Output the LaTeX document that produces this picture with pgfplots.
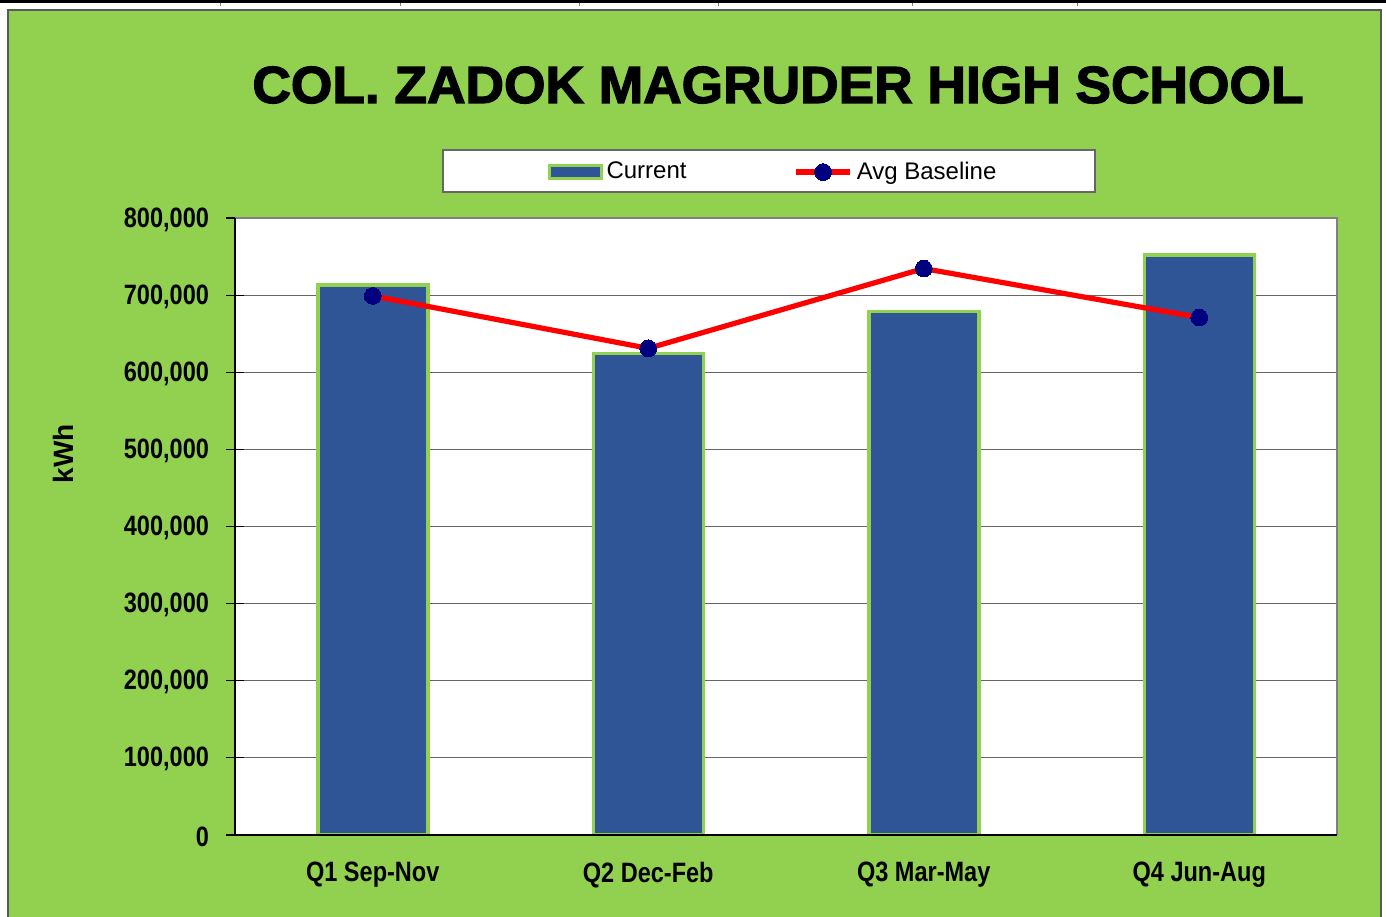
\documentclass[border=0pt]{standalone}
\usepackage{pgfplots}
\pgfplotsset{compat=1.18}
\usepackage{fontspec}
\setmainfont{Liberation Sans}
\newfontfamily\narrowfont[FakeStretch=0.84]{Liberation Sans}
\newfontfamily\titlefont[FakeBold=2.5,FakeStretch=1.025]{Liberation Sans}
\definecolor{panelgreen}{RGB}{146,208,80}
\definecolor{barblue}{RGB}{47,85,151}
\definecolor{navy}{RGB}{0,0,128}

\pgfplotsset{
  barleg/.style={legend image code/.code={\draw[##1, line width=1.5pt] (0pt,-3.2pt) rectangle (26pt,3.2pt);}},
  lineleg/.style={legend image code/.code={\draw[mark repeat=2, mark phase=2, ##1] plot coordinates {(0pt,0pt) (13.5pt,0pt) (27pt,0pt)};}},
}

\pgfplotstableread{
x current baseline
0 713000 699000
1 624500 631000
2 679000 734500
3 752000 671000
}\datatable

\begin{document}
\begin{tikzpicture}
\useasboundingbox (0pt,0pt) rectangle (693pt,-458pt);
% top sheet line
\draw[black, line width=1.5pt] (0pt,-0.75pt) -- (693pt,-0.75pt);
\foreach \xx in {110,200,289.5,359,456,538.5}{
  \draw[gray, line width=0.3pt] (\xx pt,-1.5pt) -- (\xx pt,-3pt);
}
% green panel
\fill[panelgreen] (4pt,-5pt) rectangle (690.5pt,-462pt);
\draw[black!65, line width=1pt] (4pt,-462pt) -- (4pt,-5pt) -- (690.5pt,-5pt) -- (690.5pt,-462pt);
% title
\node[font=\titlefont\bfseries\fontsize{26}{30}\selectfont] at (389pt,-42.5pt) {COL. ZADOK MAGRUDER HIGH SCHOOL};
% y label
\node[rotate=90, font=\bfseries\fontsize{14}{16}\selectfont] at (31.5pt,-227pt) {kWh};
% legend frame
\draw[black!60, fill=white, line width=0.7pt] (221.5pt,-75pt) rectangle (547.5pt,-96pt);

\begin{axis}[
  at={(117.5pt,-417.5pt)}, anchor=south west,
  scale only axis, width=551pt, height=308.5pt,
  xmin=-0.5, xmax=3.5, ymin=0, ymax=800000,
  axis background/.style={fill=white},
  axis line style={draw=none},
  ytick={0,100000,...,800000},
  ytick pos=left, xtick pos=bottom,
  xtick={0,1,2,3},
  xticklabels={Q1 Sep-Nov, Q2 Dec-Feb, Q3 Mar-May, Q4 Jun-Aug},
  x tick label style={font=\narrowfont\bfseries\fontsize{14}{16}\selectfont, yshift=-5.5pt},
  y tick label style={font=\narrowfont\bfseries\fontsize{14}{16}\selectfont, xshift=-5pt, yshift=-0.75pt},
  /pgf/number format/.cd, fixed, 1000 sep={,}, assume math mode=true, /pgfplots/.cd,
  scaled y ticks=false,
  major x tick style={draw=none},
  extra x ticks={-0.5,0.5,1.5,2.5,3.5},
  extra x tick labels={},
  extra x tick style={major tick length=8pt, tick align=center, major tick style={draw=black, line width=0.5pt}},
  ytick style={draw=black, line width=0.6pt},
  major tick length=9pt, tick align=center,
  ymajorgrids, grid style={draw=black!60, line width=0.6pt},
  legend style={at={(0.4891,1.0745)}, anchor=center, draw=none, fill=none,
    font=\fontsize{12}{14}\selectfont, legend columns=2,
    /tikz/every even column/.append style={column sep=51.5pt}},
  legend cell align=left,
  clip=false,
]
\addplot[ybar, bar width=55pt, fill=barblue, draw=panelgreen, line width=1.75pt, barleg]
  table[x=x, y=current] {\datatable};
\addlegendentry{Current}
\addplot[red, line width=2.6pt, mark=*, mark size=4.2pt,
  mark options={fill=navy, draw=navy, line width=0pt}, lineleg]
  table[x=x, y=baseline] {\datatable};
\addlegendentry{Avg Baseline}
\draw[black!50, line width=1pt] (rel axis cs:0,1) -- (rel axis cs:1,1) -- (rel axis cs:1,0);
\draw[black, line width=0.6pt] (rel axis cs:0,1) -- (rel axis cs:0,0) -- (rel axis cs:1,0);
\end{axis}
\end{tikzpicture}
\end{document}
